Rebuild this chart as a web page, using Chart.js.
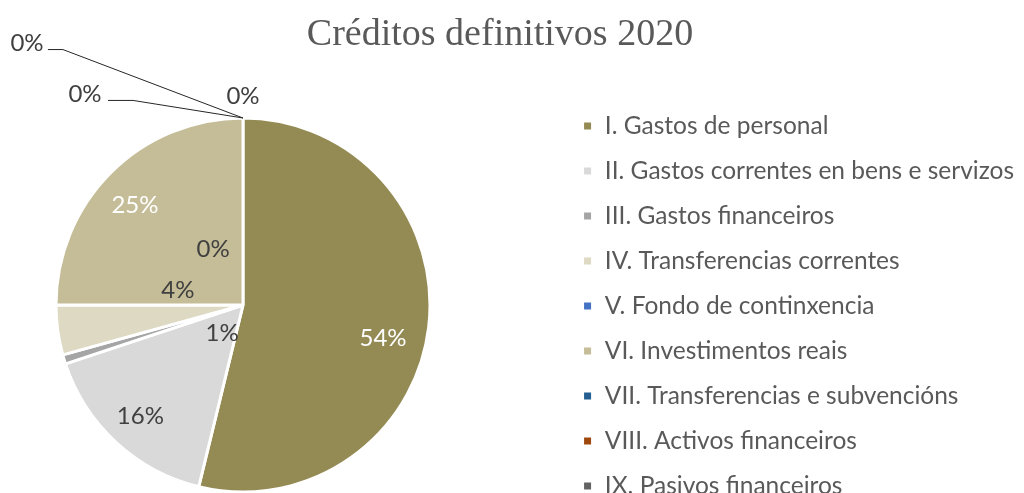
<!DOCTYPE html>
<html><head><meta charset="utf-8">
<script src="https://cdn.jsdelivr.net/npm/chart.js@4/dist/chart.umd.min.js"></script>
<style>html,body{margin:0;padding:0;background:#fff;}#wrap{width:1024px;height:493px;position:relative}</style>
</head><body><div id="wrap"><canvas id="c"></canvas></div>
<script>
const chartTitle = 'Créditos definitivos 2020';
const categories = [
  'I. Gastos de personal',
  'II. Gastos correntes en bens e servizos',
  'III. Gastos financeiros',
  'IV. Transferencias correntes',
  'V. Fondo de continxencia',
  'VI. Investimentos reais',
  'VII. Transferencias e subvencións',
  'VIII. Activos financeiros',
  'IX. Pasivos financeiros'
];
const shares = [53.8, 16.1, 0.8, 4.3, 0, 25.0, 0, 0, 0];
const sliceColors = ['#948A54','#D9D9D9','#A5A5A5','#DDD9C3','#4472C4','#C4BD97','#255E91','#9E480E','#636363'];

// label placement (in radius units, relative to pie centre)
const labelPlacement = [
  {dx: 0.749, dy: 0.176, color: '#ffffff'},
  {r: 0.81, color: '#404040'},
  {dx: -0.112, dy: 0.152, color: '#404040'},
  {dx: -0.348, dy: -0.078, color: '#404040'},
  {dx: -0.16, dy: -0.297, color: '#404040'},
  {dx: -0.578, dy: -0.532, color: '#ffffff'},
  {dx: 0, dy: -1.115, color: '#404040'},
  {dx: -0.845, dy: -1.126, color: '#404040', leader: [[-0.588, -1.094], [-0.722, -1.094]]},
  {dx: -1.155, dy: -1.398, color: '#404040', leader: [[-0.963, -1.366], [-1.043, -1.366]]}
];

// layout: pie box and legend shift
const pieBox = {left: 56, right: 430, top: 118, bottom: 492};
const legendShift = 59.5;

const layoutPlugin = {
  id: 'layoutAdjust',
  afterLayout(chart) {
    const a = chart.chartArea;
    a.left = pieBox.left; a.right = pieBox.right;
    a.top = pieBox.top; a.bottom = pieBox.bottom;
    a.width = a.right - a.left; a.height = a.bottom - a.top;
    if (chart.legend) {
      chart.legend.top += legendShift;
      chart.legend.bottom += legendShift;
    }
  }
};

const titlePlugin = {
  id: 'titleDraw',
  afterDraw(chart) {
    const ctx = chart.ctx;
    ctx.save();
    ctx.font = '38px "Liberation Serif"';
    ctx.fillStyle = '#595959';
    ctx.textAlign = 'center';
    ctx.textBaseline = 'alphabetic';
    ctx.fillText(chartTitle, 500, 45);
    ctx.restore();
  }
};

const labelPlugin = {
  id: 'pctLabels',
  afterDatasetsDraw(chart) {
    const ctx = chart.ctx;
    const meta = chart.getDatasetMeta(0);
    const total = shares.reduce((a, b) => a + b, 0);
    ctx.save();
    ctx.font = '24px Lato';
    ctx.textAlign = 'center';
    ctx.textBaseline = 'middle';
    meta.data.forEach((arc, i) => {
      const p = labelPlacement[i];
      const {x, y, startAngle, endAngle, outerRadius} = arc.getProps(['x','y','startAngle','endAngle','outerRadius'], true);
      let lx, ly;
      if (p.r !== undefined) {
        const mid = (startAngle + endAngle) / 2;
        lx = x + Math.cos(mid) * outerRadius * p.r;
        ly = y + Math.sin(mid) * outerRadius * p.r;
      } else {
        lx = x + p.dx * outerRadius;
        ly = y + p.dy * outerRadius;
      }
      if (p.leader) {
        const ax = x + Math.cos(startAngle) * outerRadius;
        const ay = y + Math.sin(startAngle) * outerRadius;
        ctx.beginPath();
        ctx.strokeStyle = '#262626';
        ctx.lineWidth = 1;
        ctx.moveTo(ax, ay);
        p.leader.forEach(pt => ctx.lineTo(x + pt[0] * outerRadius, y + pt[1] * outerRadius));
        ctx.stroke();
      }
      ctx.fillStyle = p.color;
      ctx.fillText(Math.round(shares[i] / total * 100) + '%', lx, ly);
    });
    ctx.restore();
  }
};

new Chart(document.getElementById('c'), {
  type: 'pie',
  data: {
    labels: categories,
    datasets: [{
      data: shares,
      backgroundColor: sliceColors,
      borderColor: '#ffffff',
      borderWidth: 3
    }]
  },
  options: {
    responsive: true,
    maintainAspectRatio: false,
    animation: false,
    radius: 187,
    layout: {padding: 0},
    plugins: {
      legend: {
        position: 'right',
        align: 'center',
        labels: {
          boxWidth: 10,
          boxHeight: 10,
          padding: 20.5,
          color: '#595959',
          font: {family: 'Lato', size: 24.5}
        }
      },
      tooltip: {enabled: false}
    }
  },
  plugins: [layoutPlugin, labelPlugin, titlePlugin]
});
</script>
</body></html>
